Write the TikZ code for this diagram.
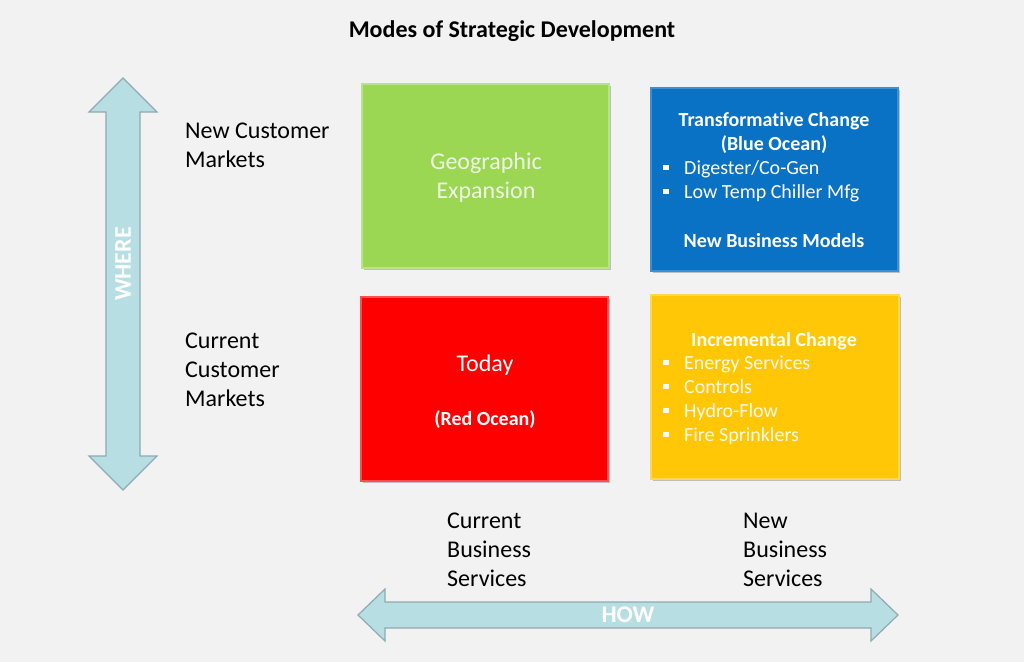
\documentclass[tikz,border=0pt]{standalone}
\usepackage{fontspec}
\setmainfont[Ligatures={NoCommon}]{Carlito}
\usetikzlibrary{shadows}
\definecolor{bg}{HTML}{F2F2F2}
\definecolor{qgreen}{HTML}{9BD753}
\definecolor{qgreenb}{HTML}{B8E38C}
\definecolor{qblue}{HTML}{0A72C4}
\definecolor{qblueb}{HTML}{3B8FD4}
\definecolor{qred}{HTML}{FE0000}
\definecolor{qredb}{HTML}{FF5050}
\definecolor{qyellow}{HTML}{FFC706}
\definecolor{qyellowb}{HTML}{FFD84D}
\definecolor{arrfill}{HTML}{B7DEE3}
\definecolor{arrdraw}{HTML}{8FAAB0}
\newcommand{\bul}{\raisebox{4pt}{\rule{5.5pt}{5.5pt}}\hspace{15.5pt}}
\tikzset{
  quad/.style={rectangle, line width=1.2pt, minimum width=247pt, minimum height=184pt,
    drop shadow={opacity=0.45, shadow xshift=1.5pt, shadow yshift=-2pt}},
  biglbl/.style={font=\fontsize{24}{29}\selectfont, align=left, anchor=west, inner sep=0pt},
  boxbig/.style={font=\fontsize{24}{29}\selectfont, text=white, align=center, inner sep=0pt},
  boxhead/.style={font=\fontsize{20}{24}\selectfont\bfseries, text=white, align=center, inner sep=0pt},
  boxlist/.style={font=\fontsize{20}{24}\selectfont, text=white, align=left, anchor=west, inner sep=0pt},
  dblarrow/.style={fill=arrfill, draw=arrdraw, line width=1.2pt, line join=miter},
  arrlbl/.style={font=\fontsize{24}{26}\selectfont\bfseries, text=white, inner sep=0pt}
}
\begin{document}
\begin{tikzpicture}[x=1pt,y=-1pt]
\fill[bg] (0,0) rectangle (1024,662);
\useasboundingbox (0,0) rectangle (1024,662);

% title
\node[font=\fontsize{24}{28}\selectfont\bfseries, inner sep=0pt] (title) at (512,31) {Modes of Strategic Development};

% quadrant boxes
\node[quad, fill=qgreen, draw=qgreenb] (geo) at (485.5,176) {};
\node[quad, fill=qblue, draw=qblueb, minimum height=183pt] (blue) at (774.5,179.5) {};
\node[quad, fill=qred, draw=qredb] (red) at (484.5,389) {};
\node[quad, fill=qyellow, draw=qyellowb, minimum width=248pt] (yellow) at (775,387) {};

% green text
\node[boxbig, text=white!85!qgreen] (geotxt) at (486,178) {Geographic\\Expansion};

% red text
\node[boxbig] (today) at (485,365) {Today};
\node[boxhead] (redocean) at (485,420) {(Red Ocean)};

% blue text
\node[boxhead] (bluehead) at (774,133) {Transformative Change\\(Blue Ocean)};
\node[boxlist] (bluelist) at (663,181) {\bul Digester/Co-Gen\\\bul Low Temp Chiller Mfg};
\node[boxhead] (bluemodels) at (774,241) {New Business Models};

% yellow text
\node[boxhead, text=white!95!qyellow] (yelhead) at (774,341) {Incremental Change};
\node[boxlist, text=white!92!qyellow] (yellist) at (663,400) {\bul Energy Services\\\bul Controls\\\bul Hydro-Flow\\\bul Fire Sprinklers};

% axis labels
\node[biglbl] (newmkt) at (185,145) {New Customer\\Markets};
\node[biglbl] (curmkt) at (185,370) {Current\\Customer\\Markets};
\node[biglbl] (cursvc) at (447,550) {Current\\Business\\Services};
\node[biglbl] (newsvc) at (743,550) {New\\Business\\Services};

% vertical arrow
\draw[dblarrow] (123,78) -- (157,112) -- (140,112) -- (140,456) -- (157,456) -- (123,490)
  -- (89,456) -- (106,456) -- (106,112) -- (89,112) -- cycle;
\node[arrlbl, rotate=90] (where) at (123,264) {WHERE};

% horizontal arrow
\draw[dblarrow] (358,615) -- (385,589) -- (385,602) -- (871,602) -- (871,589) -- (898,615)
  -- (871,641) -- (871,628) -- (385,628) -- (385,641) -- cycle;
\node[arrlbl] (how) at (628,615) {HOW};
\end{tikzpicture}
\end{document}
